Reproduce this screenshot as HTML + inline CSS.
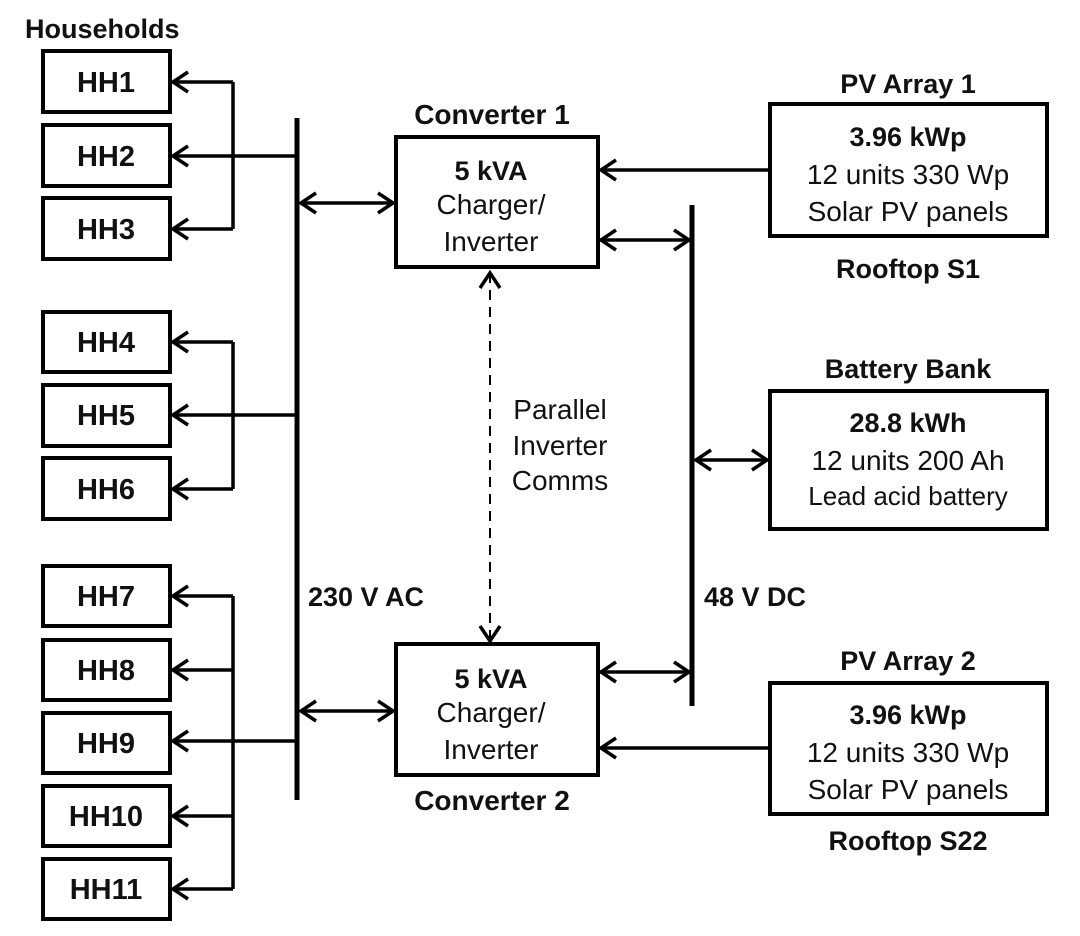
<!DOCTYPE html>
<html><head><meta charset="utf-8"><style>
html,body{margin:0;padding:0;background:#fff}
svg{display:block}
text{font-family:"Liberation Sans",sans-serif;fill:#111}
.b{font-weight:bold;font-size:27px}
.h{font-weight:bold;font-size:29px}
.n{font-size:28px;fill:#333}
</style></head><body>
<svg width="1080" height="936" viewBox="0 0 1080 936">
<defs>
<marker id="a" markerWidth="20" markerHeight="24" refX="17" refY="12" orient="auto-start-reverse" markerUnits="userSpaceOnUse">
<path d="M2,2 L17,12 L2,22" fill="none" stroke="#000" stroke-width="3.5"/>
</marker>
</defs>
<g fill="none" stroke="#000" stroke-width="4">
<rect x="43" y="51" width="127" height="61"/>
<rect x="43" y="125" width="127" height="61"/>
<rect x="43" y="198" width="127" height="61"/>
<rect x="43" y="312" width="127" height="60"/>
<rect x="43" y="385" width="127" height="61"/>
<rect x="43" y="458" width="127" height="61"/>
<rect x="43" y="566" width="127" height="60"/>
<rect x="43" y="640" width="127" height="60"/>
<rect x="43" y="713" width="127" height="60"/>
<rect x="43" y="786" width="127" height="60"/>
<rect x="43" y="859" width="127" height="60"/>
<rect x="396" y="137" width="202" height="130"/>
<rect x="396" y="644" width="202" height="131"/>
<rect x="770" y="104" width="277" height="132"/>
<rect x="770" y="391" width="277" height="138"/>
<rect x="770" y="683" width="277" height="131"/>
</g>
<g fill="none" stroke="#000" stroke-width="3.5">
<path d="M233,82 V229 M233,342 V489 M233,596 V889"/>
<path d="M233,82 H173" marker-end="url(#a)"/>
<path d="M233,229 H173" marker-end="url(#a)"/>
<path d="M297,156 H173" marker-end="url(#a)"/>
<path d="M233,342 H173" marker-end="url(#a)"/>
<path d="M233,489 H173" marker-end="url(#a)"/>
<path d="M297,415 H173" marker-end="url(#a)"/>
<path d="M233,596 H173" marker-end="url(#a)"/>
<path d="M233,670 H173" marker-end="url(#a)"/>
<path d="M233,816 H173" marker-end="url(#a)"/>
<path d="M233,889 H173" marker-end="url(#a)"/>
<path d="M297,741 H173" marker-end="url(#a)"/>
<path d="M301,203 H393" marker-start="url(#a)" marker-end="url(#a)"/>
<path d="M301,711 H393" marker-start="url(#a)" marker-end="url(#a)"/>
<path d="M601,240 H689" marker-start="url(#a)" marker-end="url(#a)"/>
<path d="M601,672 H689" marker-start="url(#a)" marker-end="url(#a)"/>
<path d="M696,460 H767" marker-start="url(#a)" marker-end="url(#a)"/>
<path d="M770,170 H601" marker-end="url(#a)"/>
<path d="M770,748 H601" marker-end="url(#a)"/>
<path d="M490,273 V641" stroke-width="2" stroke-dasharray="10,7" marker-start="url(#a)" marker-end="url(#a)"/>
</g>
<path d="M297,118 V800 M692,205 V706" stroke="#000" stroke-width="5"/>
<text class="b" x="25" y="38">Households</text>
<g class="h" text-anchor="middle">
<text x="106" y="92">HH1</text><text x="106" y="166">HH2</text><text x="106" y="239">HH3</text>
<text x="106" y="352">HH4</text><text x="106" y="425">HH5</text><text x="106" y="499">HH6</text>
<text x="106" y="606">HH7</text><text x="106" y="680">HH8</text><text x="106" y="753">HH9</text>
<text x="106" y="826">HH10</text><text x="106" y="899">HH11</text>
</g>
<g class="b" text-anchor="middle">
<text x="492" y="124" style="font-size:28px">Converter 1</text>
<text x="492" y="810" style="font-size:28px">Converter 2</text>
<text x="908" y="93">PV Array 1</text>
<text x="908" y="278">Rooftop S1</text>
<text x="908" y="378">Battery Bank</text>
<text x="908" y="670">PV Array 2</text>
<text x="908" y="850">Rooftop S22</text>
<text x="491" y="180">5 kVA</text>
<text x="491" y="688">5 kVA</text>
<text x="908" y="146">3.96 kWp</text>
<text x="908" y="432">28.8 kWh</text>
<text x="908" y="724">3.96 kWp</text>
</g>
<text class="b" x="308" y="606">230 V AC</text>
<text class="b" x="704" y="606">48 V DC</text>
<g class="n" text-anchor="middle">
<text x="491" y="214">Charger/</text><text x="491" y="251">Inverter</text>
<text x="491" y="722">Charger/</text><text x="491" y="759">Inverter</text>
<text x="908" y="184">12 units 330 Wp</text><text x="908" y="221">Solar PV panels</text>
<text x="908" y="470">12 units 200 Ah</text>
<text x="908" y="505" style="font-size:26px;fill:#111">Lead acid battery</text>
<text x="908" y="762">12 units 330 Wp</text><text x="908" y="799">Solar PV panels</text>
<text x="560" y="419">Parallel</text><text x="560" y="455">Inverter</text><text x="560" y="490">Comms</text>
</g>
</svg>
</body></html>
